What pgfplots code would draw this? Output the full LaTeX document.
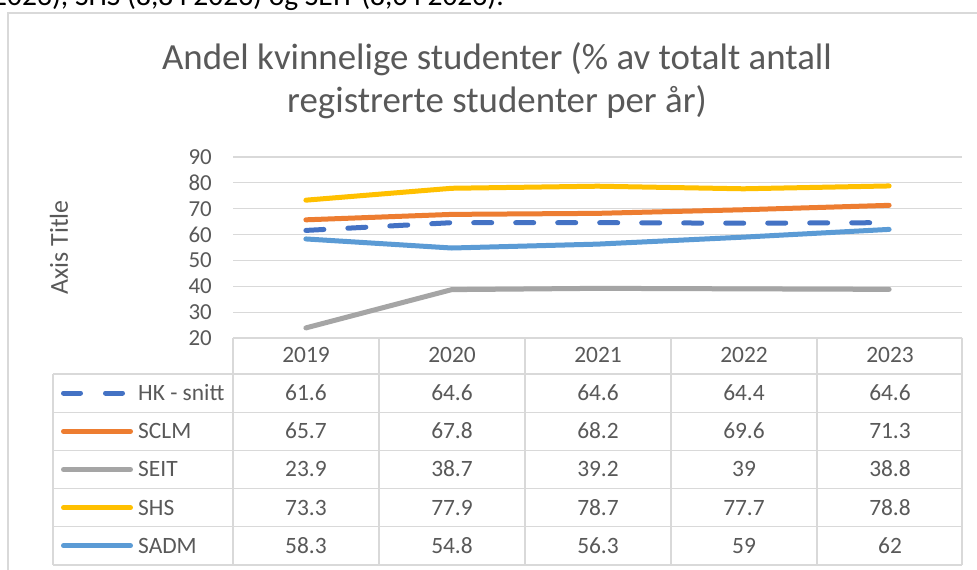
\documentclass[border=0pt]{standalone}
\usepackage{pgfplots}
\pgfplotsset{compat=1.18}
\usepackage{fontspec}
\setmainfont{Carlito}
\definecolor{hk}{HTML}{4472C4}
\definecolor{sclm}{HTML}{ED7D31}
\definecolor{seit}{HTML}{A5A5A5}
\definecolor{shs}{HTML}{FFC000}
\definecolor{sadm}{HTML}{5B9BD5}
\definecolor{txt}{HTML}{595959}
\definecolor{grd}{HTML}{D9D9D9}
\begin{document}
\begin{tikzpicture}[x=1bp,y=1bp]
\useasboundingbox (0,0) rectangle (977,570);
\clip (0,0) rectangle (977,570);
\fill[white] (0,0) rectangle (977,570);
\draw[grd, line width=1.2bp] (8,0) -- (8,557) -- (977,557);
\node[anchor=base east, inner sep=0pt, font=\fontsize{29.6}{34}\selectfont] at (504,564) {(2,2 i 2023), SHS (8,8 i 2023) og SEIT (8,6 i 2023).};
\node[anchor=base, inner sep=0pt, txt, font=\fontsize{37}{42}\selectfont] at (497,500) {Andel kvinnelige studenter (\% av totalt antall};
\node[anchor=base, inner sep=0pt, txt, font=\fontsize{37}{42}\selectfont] at (497,457) {registrerte studenter per år)};
\node[rotate=90, inner sep=0pt, txt, font=\fontsize{26}{30}\selectfont] at (59,322.5) {Axis Title};

\begin{axis}[
  at={(233bp,232bp)}, anchor=south west,
  scale only axis, width=729bp, height=181bp,
  xmin=0, xmax=5, ymin=20, ymax=90,
  ytick={20,30,...,90}, xtick=\empty,
  ymajorgrids, major grid style={grd, line width=1.2bp},
  axis line style={draw=none}, major tick length=0pt,
  /pgf/number format/assume math mode=true,
  yticklabel style={txt, font=\fontsize{23}{26}\selectfont, inner sep=0pt, anchor=east, xshift=-21bp},
  clip=false,
]
\addplot[hk, line width=5bp, line cap=round, line join=round, dash pattern=on 18bp off 24bp] coordinates {(0.5,61.6) (1.5,64.6) (2.5,64.6) (3.5,64.4) (4.5,64.6)};
\addplot[sclm, line width=5bp, line cap=round, line join=round] coordinates {(0.5,65.7) (1.5,67.8) (2.5,68.2) (3.5,69.6) (4.5,71.3)};
\addplot[seit, line width=5bp, line cap=round, line join=round] coordinates {(0.5,23.9) (1.5,38.7) (2.5,39.2) (3.5,39) (4.5,38.8)};
\addplot[shs, line width=5bp, line cap=round, line join=round] coordinates {(0.5,73.3) (1.5,77.9) (2.5,78.7) (3.5,77.7) (4.5,78.8)};
\addplot[sadm, line width=5bp, line cap=round, line join=round] coordinates {(0.5,58.3) (1.5,54.8) (2.5,56.3) (3.5,59) (4.5,62)};
\end{axis}

% data table
\begin{scope}[grd, line width=1.2bp]
\foreach \x in {233,379,525,671,817,962} \draw (\x,232) -- (\x,5);
\draw (53,196) -- (53,5);
\foreach \y in {196,157.8,119.6,81.4,43.2,5} \draw (53,\y) -- (962,\y);
\end{scope}
\begin{scope}[every node/.style={txt, inner sep=0pt, text height=14.9bp, text depth=0pt, font=\fontsize{23.5}{26}\selectfont}]
\foreach \lab [count=\i from 0] in {2019,2020,2021,2022,2023} \node at (306+146*\i,215) {\lab};
\foreach \lab/\y in {HK - snitt/176.9, SCLM/138.7, SEIT/100.5, SHS/62.3, SADM/24.1} \node[anchor=west] at (138,\y) {\lab};
\foreach \v [count=\i from 0] in {61.6,64.6,64.6,64.4,64.6} \node at (306+146*\i,176.9) {\v};
\foreach \v [count=\i from 0] in {65.7,67.8,68.2,69.6,71.3} \node at (306+146*\i,138.7) {\v};
\foreach \v [count=\i from 0] in {23.9,38.7,39.2,39,38.8} \node at (306+146*\i,100.5) {\v};
\foreach \v [count=\i from 0] in {73.3,77.9,78.7,77.7,78.8} \node at (306+146*\i,62.3) {\v};
\foreach \v [count=\i from 0] in {58.3,54.8,56.3,59,62} \node at (306+146*\i,24.1) {\v};
\end{scope}
\begin{scope}[line width=5bp, line cap=round]
\draw[hk] (63.5,176.9) -- (80.5,176.9);
\draw[hk] (105.5,176.9) -- (122.5,176.9);
\draw[sclm] (63.5,138.7) -- (130.5,138.7);
\draw[seit] (63.5,100.5) -- (130.5,100.5);
\draw[shs] (63.5,62.3) -- (130.5,62.3);
\draw[sadm] (63.5,24.1) -- (130.5,24.1);
\end{scope}
\end{tikzpicture}
\end{document}
